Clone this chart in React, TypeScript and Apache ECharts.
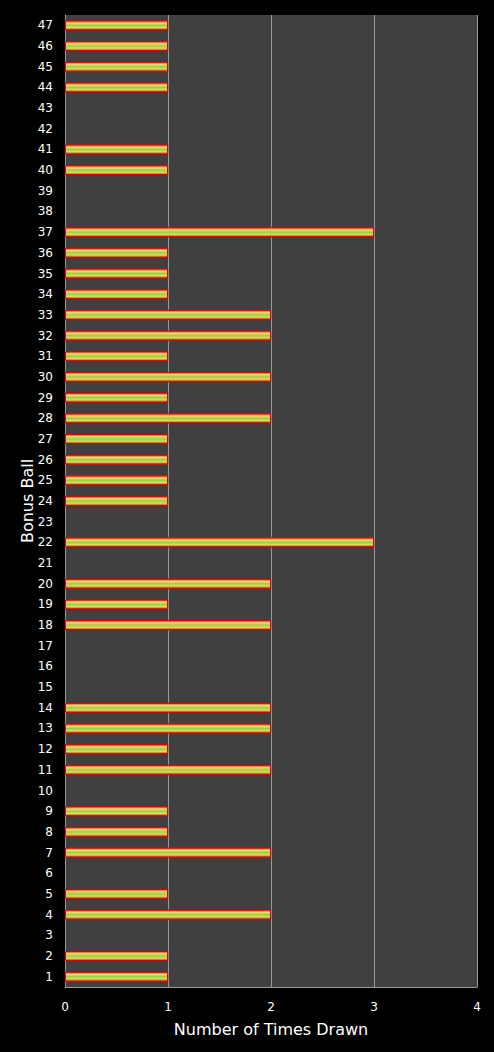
import React, { useEffect, useRef } from "react";
import * as echarts from "echarts";

// Bonus ball numbers 1..47 and how many times each was drawn
const balls: string[] = Array.from({ length: 47 }, (_, i) => String(i + 1));
const timesDrawn: number[] = [
  1, 1, 0, 2, 1, 0, 2, 1, 1, 0,
  2, 1, 2, 2, 0, 0, 0, 2, 1, 2,
  0, 3, 0, 1, 1, 1, 1, 2, 1, 2,
  1, 2, 2, 1, 1, 1, 3, 0, 0, 1,
  1, 0, 0, 1, 1, 1, 1,
];
const xTicks: number[] = [0, 1, 2, 3, 4];

const FONT = "'DejaVu Sans', 'Open Sans', sans-serif";

export default function App() {
  const ref = useRef<HTMLDivElement>(null);

  useEffect(() => {
    if (!ref.current) return;
    const chart = echarts.init(ref.current, undefined, { renderer: "svg" });

    const barFill = new echarts.graphic.LinearGradient(0, 0, 0, 1, [
      { offset: 0, color: "#d83a1c" },
      { offset: 0.25, color: "#eedc70" },
      { offset: 0.5, color: "#9ccf3e" },
      { offset: 0.75, color: "#dade62" },
      { offset: 1, color: "#d83a1c" },
    ]);

    chart.setOption({
      animation: false,
      backgroundColor: "#000000",
      grid: {
        left: 65,
        right: 17,
        top: 15,
        bottom: 65,
        show: true,
        backgroundColor: "#404040",
        borderWidth: 0,
      },
      xAxis: {
        type: "value",
        min: xTicks[0],
        max: xTicks[xTicks.length - 1],
        interval: 1,
        name: "Number of Times Drawn",
        nameLocation: "middle",
        nameGap: 34,
        nameMoveOverlap: false,
        nameTextStyle: { color: "#ffffff", fontSize: 16, fontFamily: FONT },
        axisLine: { show: true, lineStyle: { color: "#9a9a9a", width: 1 } },
        axisTick: { show: false },
        axisLabel: { color: "#ffffff", fontSize: 12, fontFamily: FONT, margin: 14 },
        splitLine: { show: true, lineStyle: { color: "#9a9a9a", width: 1 } },
      },
      yAxis: {
        type: "category",
        data: balls,
        name: "Bonus Ball",
        nameLocation: "middle",
        nameGap: 30,
        nameMoveOverlap: false,
        nameRotate: 90,
        nameTextStyle: { color: "#ffffff", fontSize: 16, fontFamily: FONT },
        axisLine: { show: true, lineStyle: { color: "#9a9a9a", width: 1 } },
        axisTick: { show: false },
        axisLabel: { color: "#ffffff", fontSize: 12, fontFamily: FONT, margin: 12, interval: 0 },
        splitLine: { show: false },
      },
      series: [
        {
          type: "bar",
          data: timesDrawn.map((v) => (v === 0 ? null : v)),
          barWidth: 10,
          itemStyle: {
            color: barFill,
            borderColor: "#c81010",
            borderWidth: 1,
            shadowColor: "rgba(200,20,20,0.6)",
            shadowBlur: 2,
          },
        },
      ],
    });

    return () => chart.dispose();
  }, []);

  return (
    <div
      ref={ref}
      style={{ position: "fixed", left: 0, top: 0, width: 494, height: 1052 }}
    />
  );
}
